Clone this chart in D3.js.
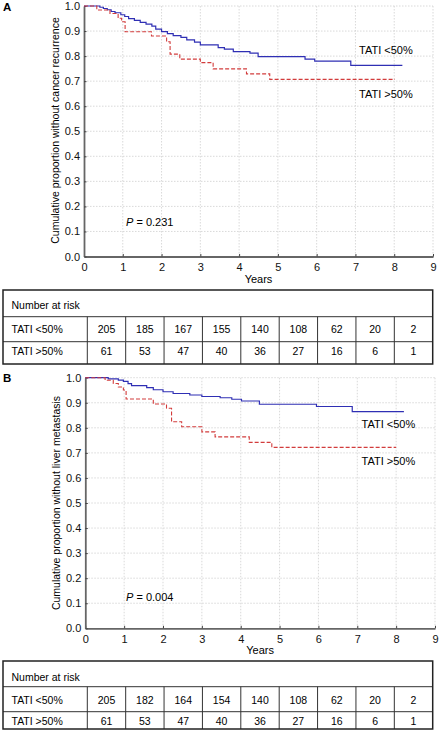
<!DOCTYPE html>
<html><head><meta charset="utf-8">
<script src="https://cdn.jsdelivr.net/npm/d3@7"></script>
<style>
body{margin:0;background:#fff}
svg{display:block;font-family:"Liberation Sans",Arial,sans-serif}
</style>
</head><body>
<svg id="c" width="439" height="730"></svg>
<script>
// ---------- data ----------
const xTickValues = [0,1,2,3,4,5,6,7,8,9];
const yTickValues = [0,0.1,0.2,0.3,0.4,0.5,0.6,0.7,0.8,0.9,1.0];
const seriesNames = ["TATI <50%", "TATI >50%"];

// Panel A: cancer recurrence
const timeA_low = [0,0.41,0.5,0.6,0.7,0.8,0.95,1.05,1.15,1.3,1.45,1.6,1.75,1.85,2.0,2.15,2.3,2.5,2.65,2.85,3.0,3.46,3.62,3.85,4.28,4.49,5.7,5.95,6.88,8.21];
const survA_low = [1.0,0.995,0.99,0.985,0.978,0.973,0.965,0.958,0.95,0.943,0.935,0.928,0.92,0.908,0.898,0.89,0.882,0.875,0.865,0.856,0.845,0.834,0.828,0.818,0.812,0.798,0.788,0.78,0.763,0.763];
const timeA_high = [0,0.33,0.67,0.88,0.97,1.06,1.74,2.13,2.22,2.47,3.0,3.33,4.19,4.79,8.02];
const survA_high = [1.0,0.984,0.97,0.951,0.937,0.897,0.88,0.857,0.808,0.788,0.774,0.749,0.729,0.707,0.707];

// Panel B: liver metastasis
const timeB_low = [0,0.59,0.85,0.98,1.1,1.19,1.58,1.75,2.0,2.26,2.69,3.0,3.47,3.77,4.02,4.48,5.95,6.87,8.2];
const survB_low = [1.0,0.995,0.99,0.985,0.976,0.968,0.96,0.952,0.944,0.937,0.931,0.925,0.92,0.914,0.907,0.894,0.885,0.865,0.865];
const timeB_high = [0,0.51,0.72,0.85,0.98,1.05,1.75,2.09,2.22,2.48,3.0,3.34,4.22,4.8,8.0];
const survB_high = [1.0,0.99,0.977,0.963,0.951,0.915,0.895,0.878,0.824,0.804,0.784,0.764,0.742,0.722,0.722];

// Number at risk
const riskYears = [0,1,2,3,4,5,6,7,8];
const riskA_low = [205,185,167,155,140,108,62,20,2];
const riskA_high = [61,53,47,40,36,27,16,6,1];
const riskB_low = [205,182,164,154,140,108,62,20,2];
const riskB_high = [61,53,47,40,36,27,16,6,1];

// ---------- drawing ----------
const svg = d3.select("#c");
const BLUE = "#2f2fb4", RED = "#d23c3c";

function panel(cfg){
  const g = svg.append("g");
  const x = d3.scaleLinear().domain([0,9]).range([cfg.x0,cfg.x1]);
  const y = d3.scaleLinear().domain([0,1]).range([cfg.y0,cfg.y1]);

  // panel letter
  g.append("text").attr("x",3).attr("y",cfg.letterY).attr("font-size",11.5)
   .attr("font-weight","bold").text(cfg.letter);

  // grid
  g.append("g").selectAll("line").data(xTickValues.slice(1)).join("line")
    .attr("x1",d=>x(d)).attr("x2",d=>x(d)).attr("y1",y(0)).attr("y2",y(1))
    .attr("stroke","#cfcfcf").attr("stroke-width",0.8).attr("stroke-dasharray","1.5,1.5");
  g.append("g").selectAll("line").data(yTickValues.slice(1)).join("line")
    .attr("y1",d=>y(d)).attr("y2",d=>y(d)).attr("x1",x(0)).attr("x2",x(9))
    .attr("stroke","#cfcfcf").attr("stroke-width",0.8).attr("stroke-dasharray","1.5,1.5");

  // axes
  const xa = g.append("g").attr("transform",`translate(0,${y(0)})`)
    .call(d3.axisBottom(x).tickValues(xTickValues).tickSizeInner(-2.5).tickSizeOuter(0).tickPadding(7).tickFormat(d3.format("d")));
  const ya = g.append("g").attr("transform",`translate(${x(0)},0)`)
    .call(d3.axisLeft(y).tickValues(yTickValues).tickSizeInner(-2.5).tickSizeOuter(0).tickPadding(4).tickFormat(d3.format(".1f")));
  [xa,ya].forEach(a=>{
    a.select(".domain").attr("stroke","#666").attr("stroke-width",1.8);
    a.selectAll(".tick line").attr("stroke","#444").attr("stroke-width",1);
    a.selectAll("text").attr("font-size",11).attr("fill","#111")
     .attr("font-family",'"Liberation Sans",Arial,sans-serif');
  });

  // axis titles
  g.append("text").attr("x",(cfg.x0+cfg.x1)/2).attr("y",cfg.y0+26).attr("text-anchor","middle")
   .attr("font-size",11).text("Years");
  g.append("text").attr("transform",`translate(${cfg.x0-25.5},${cfg.labelCY}) rotate(-90)`)
   .attr("text-anchor","middle").attr("font-size",cfg.labelSize).text(cfg.yLabel);

  // curves
  const line = d3.line().x(d=>x(d[0])).y(d=>y(d[1])).curve(d3.curveStepAfter);
  g.append("path").datum(d3.zip(cfg.tLow,cfg.sLow)).attr("d",line)
    .attr("fill","none").attr("stroke",BLUE).attr("stroke-width",1.2);
  g.append("path").datum(d3.zip(cfg.tHigh,cfg.sHigh)).attr("d",line)
    .attr("fill","none").attr("stroke",RED).attr("stroke-width",1.1).attr("stroke-dasharray","4,2");

  // legend labels
  g.append("text").attr("x",cfg.legX).attr("y",cfg.legY1).attr("font-size",11).text(seriesNames[0]);
  g.append("text").attr("x",cfg.legX).attr("y",cfg.legY2).attr("font-size",11).text(seriesNames[1]);

  // P value
  const pt = g.append("text").attr("x",126).attr("y",cfg.pY).attr("font-size",11);
  pt.append("tspan").attr("font-style","italic").text("P");
  pt.append("tspan").text(" = " + cfg.p);

  // risk table
  const tb = cfg.table;
  const cols = d3.scaleBand().domain(riskYears).range([87.3,432.7]);
  const tg = g.append("g");
  const rowsY = tb.rows; // [top, line1, line2, bottom]
  // inner lines
  tg.append("g").selectAll("line").data([rowsY[1],rowsY[2]]).join("line")
    .attr("x1",3).attr("x2",432.7).attr("y1",d=>d).attr("y2",d=>d)
    .attr("stroke","#333").attr("stroke-width",1);
  tg.append("g").selectAll("line").data(riskYears).join("line")
    .attr("x1",d=>cols(d)).attr("x2",d=>cols(d)).attr("y1",rowsY[1]).attr("y2",rowsY[3])
    .attr("stroke","#333").attr("stroke-width",1);
  tg.append("rect").attr("x",3).attr("y",rowsY[0]).attr("width",429.7).attr("height",rowsY[3]-rowsY[0])
    .attr("fill","none").attr("stroke","#222").attr("stroke-width",1.5);
  tg.append("text").attr("x",11.5).attr("y",tb.textY[0]).attr("font-size",10.5).text("Number at risk");
  [[seriesNames[0],cfg.rLow,tb.textY[1]],[seriesNames[1],cfg.rHigh,tb.textY[2]]].forEach(([nm,vals,ty])=>{
    tg.append("text").attr("x",11.5).attr("y",ty).attr("font-size",10.5).text(nm);
    tg.append("g").selectAll("text").data(vals).join("text")
      .attr("x",(d,i)=>cols(riskYears[i])+cols.bandwidth()/2).attr("y",ty)
      .attr("text-anchor","middle").attr("font-size",10.5).text(d=>d);
  });
}

panel({letter:"A",letterY:11,x0:84,x1:433,y0:256.5,y1:6,labelCY:130.5,labelSize:10.5,
  yLabel:"Cumulative proportion without cancer recurrence",
  tLow:timeA_low,sLow:survA_low,tHigh:timeA_high,sHigh:survA_high,
  legX:359,legY1:53.5,legY2:97.5,pY:226,p:"0.231",
  rLow:riskA_low,rHigh:riskA_high,
  table:{rows:[290,316.7,341.7,364],textY:[309,332.5,354.5]}});

panel({letter:"B",letterY:382,x0:85.3,x1:435,y0:628.3,y1:377.7,labelCY:503,labelSize:10.5,
  yLabel:"Cumulative proportion without liver metastasis",
  tLow:timeB_low,sLow:survB_low,tHigh:timeB_high,sHigh:survB_high,
  legX:361.5,legY1:427.5,legY2:464.5,pY:601,p:"0.004",
  rLow:riskB_low,rHigh:riskB_high,
  table:{rows:[661,686.7,711.7,729],textY:[681,703.5,725]}});
</script>
</body></html>
